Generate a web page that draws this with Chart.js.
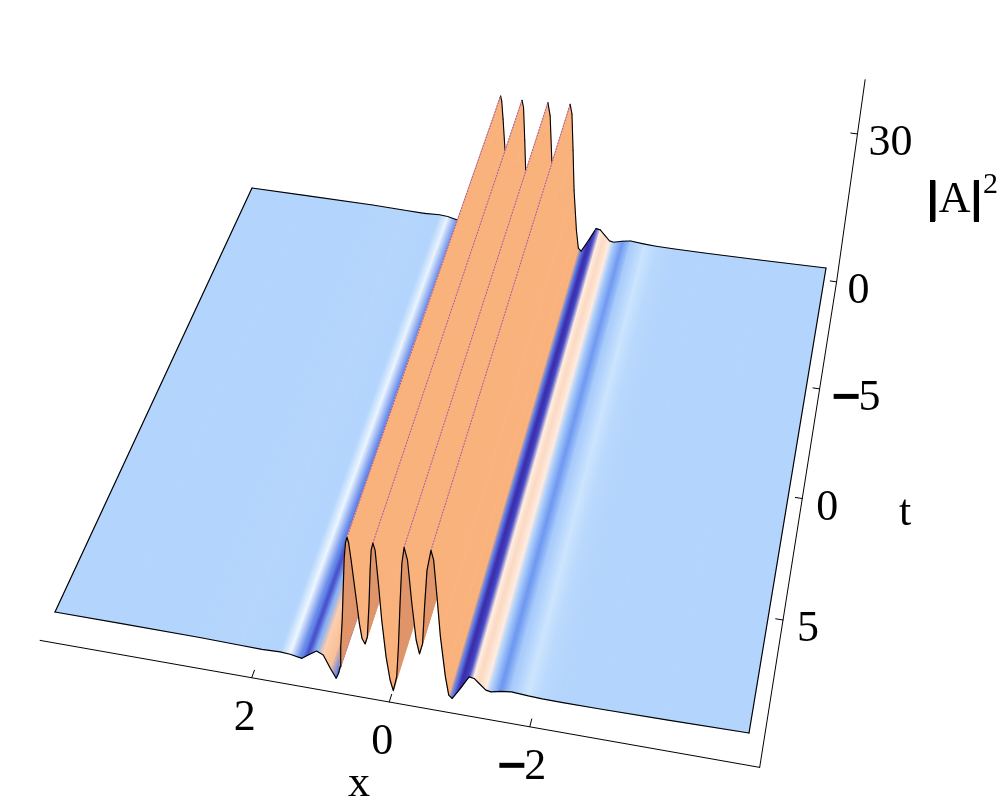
<!DOCTYPE html>
<html>
<head>
<meta charset="utf-8">
<title>|A|^2 surface</title>
<style>
  html, body { margin: 0; padding: 0; background: #fff; }
  canvas { display: block; }
</style>
<script src="https://cdn.jsdelivr.net/npm/chart.js@4"></script>
</head>
<body>
<canvas id="surfaceChart" width="1000" height="809"></canvas>
<script>
const xValues = [5.2, 4.18, 2.95, 2.33, 2.0, 1.723, 1.572, 1.395, 1.297, 1.168, 1.068, 0.968,
  0.884, 0.846, 0.818, 0.80, 0.766, 0.736, 0.709, 0.684, 0.661, 0.640, 0.609, 0.574, 0.542, 0.512, 0.477,
  0.434, 0.398, 0.362, 0.337, 0.316, 0.289, 0.259, 0.220, 0.180, 0.124, 0.069,
  0.023, -0.031, -0.061, -0.092, -0.124, -0.158, -0.205, -0.263, -0.324,
  -0.372, -0.418, -0.448, -0.484, -0.541, -0.579, -0.628, -0.679, -0.755, -0.806,
  -0.858, -0.979, -1.103, -1.178, -1.253, -1.353, -1.428, -1.577, -1.727, -1.977, -2.18, -2.48, -3.0, -4.0, -5.15];
const intensity = [4.0, 4.0, 3.95, 3.8, 3.72, 3.88, 3.74, 3.33, 4.24, 5.34, 4.77, 2.32,
  0.49, 1.59, 2.99, 7.08, 12.5, 19.3, 25.4, 28.5, 29.6, 28.6, 25.0, 20.4, 16.4, 12.5, 9.5,
  8.5, 10.0, 16.9, 23.7, 27.8, 29.3, 27.9, 21.3, 13.9, 6.6, 2.05,
  0.0, 2.95, 9.1, 18.0, 26.2, 29.5, 27.0, 18.4, 11.1,
  8.4, 10.6, 18.1, 25.6, 29.8, 27.9, 20.6, 12.6, 4.65, 1.06,
  0.51, 2.84, 5.48, 5.34, 4.5, 3.39, 3.23, 3.66, 3.94, 3.72, 3.62, 3.58, 3.6, 3.75, 4.0];

const tRange = [-10, 10];
const xTicks = [2, 0, -2];
const xTickLabels = ['2', '0', '\u22122'];
const tTicks = [-5, 0, 5];
const tTickLabels = ['\u22125', '0', '5'];
const zTicks = [0, 30];
const zTickLabels = ['0', '30'];

const bgLevel = 4;
const zScale = 4.93;
const xSpan = [5.2, -5.15];
const axisX = [5.4, -5.36];
const axisT = [-10.4, 10.42];
const zTop = 41;
// the floor axis sits a bit wider than the surface front edge
const xTickPos = x => x * 1.04 + 0.03;

// Perspective of the base plane, fitted on the four corners of the surface
const quad = [[252, 188], [826, 268], [749, 733], [55, 612]];
const homography = (() => {
  const [p0, p1, p2, p3] = quad;
  const dx1 = p1[0] - p2[0], dx2 = p3[0] - p2[0], sx = p0[0] - p1[0] + p2[0] - p3[0];
  const dy1 = p1[1] - p2[1], dy2 = p3[1] - p2[1], sy = p0[1] - p1[1] + p2[1] - p3[1];
  const den = dx1 * dy2 - dx2 * dy1;
  const g = (sx * dy2 - dx2 * sy) / den;
  const h = (dx1 * sy - sx * dy1) / den;
  return {
    g, h,
    a: p1[0] - p0[0] + g * p1[0], b: p3[0] - p0[0] + h * p3[0], c: p0[0],
    d: p1[1] - p0[1] + g * p1[1], e: p3[1] - p0[1] + h * p3[1], f: p0[1]
  };
})();

function project(x, t, z) {
  const u = (xSpan[0] - x) / (xSpan[0] - xSpan[1]);
  const v = (t - tRange[0]) / (tRange[1] - tRange[0]);
  const H = homography;
  const w = 1 + H.g * u + H.h * v;
  const px = (H.a * u + H.b * v + H.c) / w;
  const py = (H.d * u + H.e * v + H.f) / w;
  const up = (z - bgLevel) * zScale;
  return { x: px + (px - 430) / 2900 * up, y: py - up };
}

// The original lighting tints a strip by its slope, not by its height
const slopeStops = [
  [-40, [250, 178, 125]], [-18, [251, 196, 158]], [-10, [252, 220, 198]], [-6, [253, 238, 230]],
  [-3, [252, 252, 255]], [-1.5, [232, 244, 255]], [-0.6, [200, 226, 254]], [-0.2, [179, 212, 252]],
  [0.25, [179, 212, 252]], [0.6, [160, 198, 250]], [1.2, [140, 180, 246]], [2.5, [106, 148, 240]],
  [6, [74, 95, 216]], [12, [63, 55, 185]], [25, [53, 32, 159]]
];

function slopeColor(s) {
  const first = slopeStops[0], last = slopeStops[slopeStops.length - 1];
  if (s <= first[0]) return `rgb(${first[1].join(',')})`;
  if (s >= last[0]) return `rgb(${last[1].join(',')})`;
  for (let i = 1; i < slopeStops.length; i++) {
    if (s <= slopeStops[i][0]) {
      const [s0, c0] = slopeStops[i - 1];
      const [s1, c1] = slopeStops[i];
      const k = (s - s0) / (s1 - s0);
      return `rgb(${c0.map((c, j) => Math.round(c + (c1[j] - c) * k)).join(',')})`;
    }
  }
}

const canvas = document.getElementById('surfaceChart');
const ctx = canvas.getContext('2d');
const underside = '#e0946a';
const n = xValues.length;
const front = xValues.map((x, i) => project(x, tRange[1], intensity[i]));
const back = xValues.map((x, i) => project(x, tRange[0], intensity[i]));
const slopes = [];
const facing = [];
for (let i = 0; i < n - 1; i++) {
  slopes.push((intensity[i + 1] - intensity[i]) / (xValues[i] - xValues[i + 1]));
  const dx = back[i].x - front[i].x, dy = back[i].y - front[i].y;
  const ox = front[i + 1].x - front[i].x, oy = front[i + 1].y - front[i].y;
  facing.push(dx * oy - dy * ox > 0);
}

function stripFill(i) {
  if (!facing[i]) return underside;
  const leftS = i > 0 && facing[i - 1] ? (slopes[i - 1] + slopes[i]) / 2 : slopes[i];
  const rightS = i < n - 2 && facing[i + 1] ? (slopes[i] + slopes[i + 1]) / 2 : slopes[i];
  const m0 = { x: (front[i].x + back[i].x) / 2, y: (front[i].y + back[i].y) / 2 };
  const m1 = { x: (front[i + 1].x + back[i + 1].x) / 2, y: (front[i + 1].y + back[i + 1].y) / 2 };
  const dx = back[i].x - front[i].x, dy = back[i].y - front[i].y;
  const len = Math.hypot(dx, dy);
  const nx = -dy / len, ny = dx / len;
  const L = (m1.x - m0.x) * nx + (m1.y - m0.y) * ny;
  if (Math.abs(L) < 0.5) return slopeColor(slopes[i]);
  const grad = ctx.createLinearGradient(m0.x, m0.y, m0.x + nx * L, m0.y + ny * L);
  grad.addColorStop(0, slopeColor(leftS));
  grad.addColorStop(1, slopeColor(rightS));
  return grad;
}

function lineSet(points, color, width, dash) {
  return {
    data: points, showLine: true, fill: false, borderColor: color, borderWidth: width,
    borderDash: dash || [], pointRadius: 0, tension: 0, borderCapStyle: 'round', borderJoinStyle: 'round'
  };
}

const datasets = [];

// Axes of the box, behind the surface
datasets.push(lineSet([project(axisX[0], axisT[1], 0), project(axisX[1], axisT[1], 0)], '#000', 1));
datasets.push(lineSet([project(axisX[1], axisT[1], 0), project(axisX[1], axisT[0], 0), project(axisX[1], axisT[0], zTop)], '#000', 1));
xTicks.forEach(x => datasets.push(lineSet([project(xTickPos(x), axisT[1], 0), project(xTickPos(x), axisT[1] - 0.28, 0)], '#000', 1)));
tTicks.forEach(t => datasets.push(lineSet([project(axisX[1], t, 0), project(axisX[1] + 0.11, t, 0)], '#000', 1)));
zTicks.forEach(z => datasets.push(lineSet([project(axisX[1], axisT[0], z), project(axisX[1] + 0.11, axisT[0], z)], '#000', 1)));

// Strips go from left to right, each one paints over what it hides
for (let i = 0; i < n - 1; i++) {
  const paint = stripFill(i);
  datasets.push({
    data: [front[i], back[i], back[i + 1], front[i + 1], front[i]],
    showLine: true, fill: 'shape', backgroundColor: paint, borderColor: paint, borderWidth: 0.7,
    pointRadius: 0, tension: 0
  });
  datasets.push(lineSet([back[i], back[i + 1]], '#000', 1.1));
  const isPeak = i > 0 && intensity[i] > 20 && intensity[i] > intensity[i - 1] && intensity[i] > intensity[i + 1];
  if (isPeak) datasets.push(lineSet([front[i], back[i]], '#9b55b5', 1, [1, 2]));
}

datasets.push(lineSet([front[0], back[0]], '#000', 1.2));
datasets.push(lineSet([front[n - 1], back[n - 1]], '#000', 1.2));
datasets.push(lineSet(front, '#000', 1.2));

datasets.forEach((d, k) => { d.order = -k; });

const serif = '"Liberation Serif", "Times New Roman", serif';
const axisText = {
  id: 'axisText',
  afterDraw(chart) {
    const c = chart.ctx;
    const sx = chart.scales.x, sy = chart.scales.y;
    const at = p => ({ x: sx.getPixelForValue(p.x), y: sy.getPixelForValue(p.y) });
    // the minus signs in the original are heavier than the font's
    const heavyMinus = (label, left, base) => {
      if (label[0] === '\u2212') c.fillRect(left, base - 16, 25, 5);
    };
    c.save();
    c.fillStyle = '#000';
    c.textBaseline = 'alphabetic';
    c.font = `44px ${serif}`;
    c.textAlign = 'left';
    xTicks.forEach((x, i) => {
      const p = at(project(xTickPos(x), axisT[1], 0));
      const w = c.measureText(xTickLabels[i]).width;
      const left = p.x - 7 - w / 2;
      c.fillText(xTickLabels[i], left, p.y + 52);
      heavyMinus(xTickLabels[i], left, p.y + 52);
    });
    tTicks.forEach((t, i) => {
      const p = at(project(axisX[1], t, 0));
      c.fillText(tTickLabels[i], p.x + 14, p.y + 21);
      heavyMinus(tTickLabels[i], p.x + 14, p.y + 21);
    });
    zTicks.forEach((z, i) => {
      const p = at(project(axisX[1], axisT[0], z));
      c.fillText(zTickLabels[i], p.x + 11, p.y + 21);
    });
    c.fillText('x', 348, 796);
    c.fillText('t', 899, 525);
    c.fillText('|A|', 930, 212);
    // heavier bars, as in the original
    c.fillRect(930, 180, 5, 42);
    c.fillRect(974, 180, 5, 42);
    c.font = `30px ${serif}`;
    c.fillText('2', 983, 193);
    c.restore();
  }
};

new Chart(ctx, {
  type: 'scatter',
  data: { datasets },
  plugins: [axisText],
  options: {
    responsive: false,
    animation: false,
    layout: { padding: 0 },
    scales: {
      x: { type: 'linear', min: 0, max: 1000, display: false },
      y: { type: 'linear', min: 0, max: 809, reverse: true, display: false }
    },
    plugins: { legend: { display: false }, tooltip: { enabled: false }, title: { display: false } }
  }
});
</script>
</body>
</html>
